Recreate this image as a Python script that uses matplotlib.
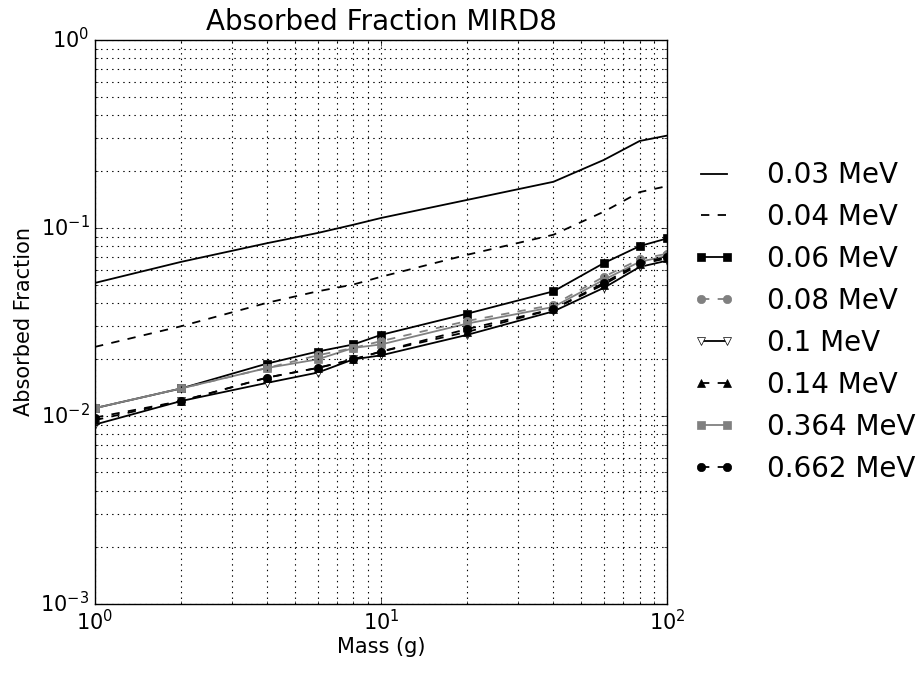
import matplotlib
matplotlib.use("Agg")
import matplotlib as mpl
import matplotlib.pyplot as plt

mpl.style.use("classic")
plt.rcParams["figure.facecolor"] = "white"
plt.rcParams["savefig.facecolor"] = "white"
plt.rcParams["font.family"] = ["DejaVu Sans"]

mass = [1, 2, 4, 6, 8, 10, 20, 40, 60, 80, 100]
e003 = [0.051, 0.066, 0.083, 0.094, 0.104, 0.113, 0.141, 0.176, 0.23, 0.29, 0.31]
e004 = [0.0233, 0.030, 0.040, 0.046, 0.050, 0.055, 0.072, 0.092, 0.122, 0.155, 0.167]
e006 = [0.011, 0.014, 0.019, 0.022, 0.024, 0.027, 0.035, 0.046, 0.065, 0.080, 0.088]
e008 = [0.011, 0.014, 0.018, 0.021, 0.023, 0.025, 0.032, 0.039, 0.055, 0.068, 0.073]
e010 = [0.009, 0.012, 0.015, 0.017, 0.020, 0.021, 0.027, 0.036, 0.048, 0.062, 0.067]
e014 = [0.0095, 0.012, 0.016, 0.018, 0.020, 0.022, 0.028, 0.037, 0.050, 0.064, 0.069]
e0364 = [0.011, 0.014, 0.018, 0.020, 0.023, 0.024, 0.031, 0.038, 0.053, 0.066, 0.071]
e0662 = [0.0098, 0.012, 0.016, 0.018, 0.020, 0.022, 0.029, 0.037, 0.051, 0.065, 0.070]

labels = ["0.03 MeV", "0.04 MeV", "0.06 MeV", "0.08 MeV", "0.1 MeV",
          "0.14 MeV", "0.364 MeV", "0.662 MeV"]
series = [e003, e004, e006, e008, e010, e014, e0364, e0662]
styles = [
    dict(color="k", ls="-", marker=None),
    dict(color="k", ls="--", marker=None),
    dict(color="k", ls="-", marker="s", mfc="k", mec="k"),
    dict(color="0.5", ls="--", marker="o", mfc="0.5", mec="0.5"),
    dict(color="k", ls="-", marker="v", mfc="white", mec="k"),
    dict(color="k", ls="--", marker="^", mfc="k", mec="k"),
    dict(color="0.5", ls="-", marker="s", mfc="0.5", mec="0.5"),
    dict(color="k", ls="--", marker="o", mfc="k", mec="k"),
]

fig = plt.figure(figsize=(9.23, 6.77), dpi=100)
ax = fig.add_axes([0.103, 0.108, 0.620, 0.833])

for y, lab, st in zip(series, labels, styles):
    ax.plot(mass, y, label=lab, lw=1.3, markersize=6, **st)

ax.set_xscale("log")
ax.set_yscale("log")
ax.set_xlim(1, 100)
ax.set_ylim(1e-3, 1)
ax.grid(True, which="both", color="k", linestyle=":", linewidth=0.8)
ax.set_title("Absorbed Fraction MIRD8", fontsize=20, y=1.005)
ax.set_xlabel("Mass (g)", fontsize=15, labelpad=2)
ax.set_ylabel("Absorbed Fraction", fontsize=15)
ax.tick_params(labelsize=15)

ax.legend(loc="center left", bbox_to_anchor=(1.0, 0.5), frameon=False,
          fontsize=20, numpoints=2, handlelength=1.55, handletextpad=1.15,
          labelspacing=0.5)

fig.savefig("out.png", dpi=100)
